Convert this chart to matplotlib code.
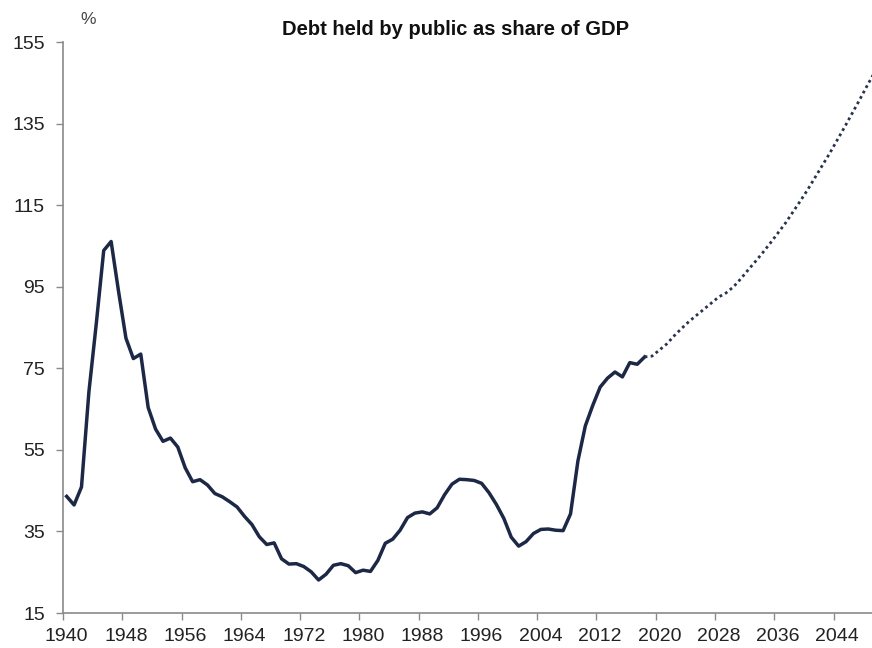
import matplotlib
matplotlib.use("Agg")
import matplotlib.pyplot as plt

# Historical debt held by public, % of GDP
hist_years = list(range(1940, 2019))
hist_values = [
    43.6, 41.5, 45.9, 69.2, 86.0, 103.9, 106.1, 93.9, 82.4, 77.4,   # 1940s
    78.5, 65.4, 60.1, 57.1, 57.9, 55.7, 50.6, 47.2, 47.7, 46.4,     # 1950s
    44.3, 43.5, 42.3, 41.0, 38.7, 36.7, 33.7, 31.8, 32.2, 28.3,     # 1960s
    27.0, 27.1, 26.4, 25.1, 23.1, 24.5, 26.7, 27.1, 26.6, 24.9,     # 1970s
    25.5, 25.2, 27.9, 32.1, 33.1, 35.3, 38.4, 39.5, 39.8, 39.3,     # 1980s
    40.8, 44.0, 46.6, 47.8, 47.7, 47.5, 46.8, 44.5, 41.6, 38.2,     # 1990s
    33.6, 31.4, 32.5, 34.5, 35.5, 35.6, 35.3, 35.2, 39.3, 52.3,     # 2000s
    60.9, 65.9, 70.4, 72.6, 74.1, 72.9, 76.4, 76.0, 77.8,           # 2010s
]

# Projection (dotted)
proj_years = list(range(2018, 2050))
proj_values = [
    77.8, 78.0, 79.5, 81.0, 83.0, 84.8, 86.5, 88.0, 89.5, 91.0,
    92.5, 93.5, 95.0, 97.0, 99.2, 101.3, 103.5, 105.8, 108.2, 110.6,
    113.3, 116.0, 118.8, 121.8, 124.8, 127.8, 131.0, 134.2, 137.5, 140.8,
    144.2, 147.5,
]

x_labels = list(range(1940, 2045, 8))
y_ticks = list(range(15, 156, 20))

plt.rcParams['font.family'] = ['Liberation Sans', 'DejaVu Sans']

fig = plt.figure(figsize=(8.72, 6.48), dpi=100)
ax = fig.add_axes([0.0722, 0.054, 0.933, 0.881])

line_color = '#1c2845'
ax.plot(hist_years, hist_values, color=line_color, linewidth=2.5, solid_joinstyle='round')
ax.plot(proj_years, proj_values, color='#27334f', linewidth=2.0, linestyle=(0, (1, 1.2)))

ax.set_xlim(1939.5, 2049.3)
ax.set_ylim(15, 155)

# category-style axis: tick marks on boundaries, labels centred on the year
ax.set_xticks([y - 0.5 for y in x_labels])
ax.set_xticklabels([])
ax.set_xticks(x_labels, minor=True)
ax.set_xticklabels([str(y) for y in x_labels], minor=True)
ax.tick_params(axis='x', which='major', length=5, width=1, color='#8a8a8a')
ax.tick_params(axis='x', which='minor', length=0, pad=11, labelsize=14, labelcolor='#222222')

ax.set_yticks(y_ticks)
ax.tick_params(axis='y', length=5, width=1, color='#8a8a8a', pad=8, labelsize=14,
               labelcolor='#222222')

for side in ['top', 'right']:
    ax.spines[side].set_visible(False)
for side in ['left', 'bottom']:
    ax.spines[side].set_color('#8a8a8a')
    ax.spines[side].set_linewidth(1.2)

fig.text(0.101, 0.970, '%', fontsize=12.5, ha='center', va='center', color='#444444')
fig.text(0.523, 0.954, 'Debt held by public as share of GDP', fontsize=14.5,
         fontweight='bold', ha='center', va='center', color='#111111')

fig.savefig('out.png', dpi=100)
